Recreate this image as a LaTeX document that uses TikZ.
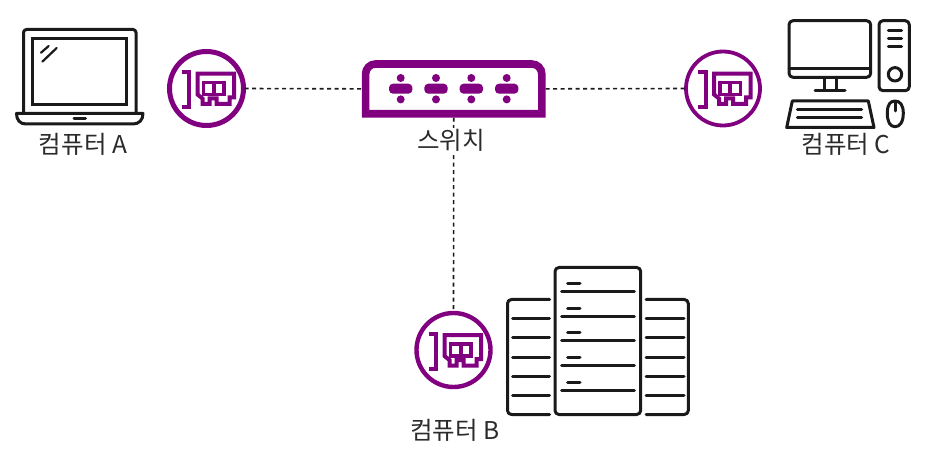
\documentclass[tikz,border=0pt]{standalone}
\usepackage{fontspec}
\setmainfont{Noto Sans CJK KR}
\definecolor{nicpurple}{HTML}{800080}
\definecolor{inkdark}{HTML}{1A1A1A}
\definecolor{labelink}{HTML}{2B2B2B}
\tikzset{
  nicring/.style={circle,draw=nicpurple,line width=4.4pt,minimum size=74pt,inner sep=0pt,outer sep=1pt},
  nicline/.style={draw=nicpurple,line width=4pt,line join=miter},
  icon/.style={draw=inkdark,line width=3pt,line cap=round,line join=round},
  thinicon/.style={draw=inkdark,line width=2.2pt,line cap=round,line join=round},
  link/.style={draw=inkdark,line width=1.6pt,dash pattern=on 4pt off 3.5pt},
  lbl/.style={text=labelink,font=\fontsize{24.5pt}{27pt}\selectfont,inner sep=0.5pt,fill=white},
  portbar/.style={draw=none,fill=nicpurple,rounded corners=4pt},
  swbox/.style={rectangle,minimum width=184pt,minimum height=57.7pt,inner sep=0pt,outer sep=0pt},
}
\newcommand{\nicicon}[2]{%
  \begin{scope}[shift={(#1,#2)}]
    \draw[nicline] (-25,-16.5) -- (-17.5,-16.5) -- (-17.5,18.5) -- (-25,18.5);
    \draw[nicline] (-9,-14.8) -- (27.5,-14.8) -- (27.5,9) -- (23,9) -- (23,15.5) -- (10,15.5) -- (10,10) -- (3,10) -- (3,15.5) -- (-4,15.5) -- (-4,10) -- (-9,6) -- cycle;
    \draw[nicpurple,line width=3.8pt] (-3,-6) rectangle (17.5,6) (7.2,-6) -- (7.2,6);
  \end{scope}}
\newcommand{\swport}[1]{%
  \fill[portbar] (#1-11.7,83.7) rectangle (#1+11.7,93.7);
  \fill[nicpurple] (#1,78) circle (4) (#1,99.4) circle (4);}
\begin{document}
\begin{tikzpicture}[x=1pt,y=-1pt]
\useasboundingbox (0,0) rectangle (927,457);
% nodes
\node[nicring,line width=5pt] (nicA) at (206.5,88.5) {};
\node[nicring,line width=3.8pt] (nicC) at (723,88.5) {};
\node[nicring] (nicB) at (453.5,350) {};
\node[swbox] (sw) at (453.7,88.85) {};
% connectors
\draw[link] (nicA.east) -- (sw.west);
\draw[link] (sw.east) -- (nicC.west);
\draw[link] (sw.south) -- (nicB.north);
% NIC icons
\nicicon{206.5}{88.5}
\nicicon{723}{88.5}
\nicicon{453.5}{350}
% switch
\draw[nicpurple,line width=7.6pt,line join=miter] (365.6,113.8) -- (365.6,74) .. controls (365.6,68.5) and (370,64) .. (375.6,64) -- (531.8,64) .. controls (537.3,64) and (541.8,68.5) .. (541.8,74) -- (541.8,113.8) -- cycle;
\swport{400.7}\swport{436}\swport{471.3}\swport{506.7}
% laptop
\draw[icon,rounded corners=3pt] (23.5,113.5) -- (23.5,29.5) -- (136,29.5) -- (136,113.5);
\draw[icon,line join=miter] (32.7,38.7) rectangle (126.7,104.3);
\draw[icon] (16.5,113.5) -- (143,113.5) .. controls (143,120) and (139,124) .. (133,124) -- (26,124) .. controls (20,124) and (16.5,120) .. (16.5,113.5) -- cycle;
\draw[icon] (74,119) -- (85.5,119);
\draw[thinicon] (41,52.7) -- (48.7,46) (42.3,61.7) -- (56.7,48);
% desktop
\draw[icon,rounded corners=4pt] (789,20.7) rectangle (870.7,77.3);
\draw[icon] (789,68.5) -- (870.7,68.5) (824,77.3) -- (824,90) (836,77.3) -- (836,90) (815,90.5) -- (845,90.5);
\draw[icon,rounded corners=4pt] (879,20.7) rectangle (909.3,90.7);
\draw[icon] (888.3,30.5) -- (901.7,30.5) (888.3,38.5) -- (901.7,38.5) (888.3,46.5) -- (901.7,46.5);
\draw[icon] (895,74.3) circle (6.7);
\draw[icon] (792.3,101) -- (868.3,101) -- (874,127.5) -- (786.7,127.5) -- cycle;
\draw[icon] (797.3,109.5) -- (861.7,109.5) (797.3,117.5) -- (861.7,117.5);
\draw[icon] (887.3,113) .. controls (887.3,105) and (890,101) .. (895,101) .. controls (900,101) and (903.3,105) .. (903.3,113) .. controls (903.3,122) and (900,126.7) .. (895,126.7) .. controls (890,126.7) and (887.3,122) .. (887.3,113) -- cycle;
\draw[icon] (895,102) -- (895,111);
% servers
\draw[icon,rounded corners=4pt] (555,414.5) -- (555,267.5) -- (640.7,267.5) -- (640.7,414.5) -- cycle;
\foreach \y in {291.5,316.5,340.5,365.5,390.5} \draw[icon] (561.7,\y) -- (634.3,\y);
\foreach \y in {283.5,308.5,332.5,357.5,382.5} \draw[icon] (567.7,\y) -- (580,\y);
\draw[icon,rounded corners=4pt] (549.5,299.5) -- (507.5,299.5) -- (507.5,414.5) -- (549.5,414.5);
\draw[icon,rounded corners=4pt] (646,299.5) -- (688.3,299.5) -- (688.3,414.5) -- (646,414.5);
\foreach \y in {318.5,337.5,357.5,376.5,395.5} {
  \draw[icon] (512.7,\y) -- (549.5,\y);
  \draw[icon] (646,\y) -- (684,\y);
}
% labels
\node[lbl] (lblA) at (83,144) {컴퓨터 A};
\node[lbl] (lblC) at (846,144) {컴퓨터 C};
\node[lbl] (lblB) at (455,430) {컴퓨터 B};
\node[lbl] (lblS) at (451,140) {스위치};
\end{tikzpicture}
\end{document}
